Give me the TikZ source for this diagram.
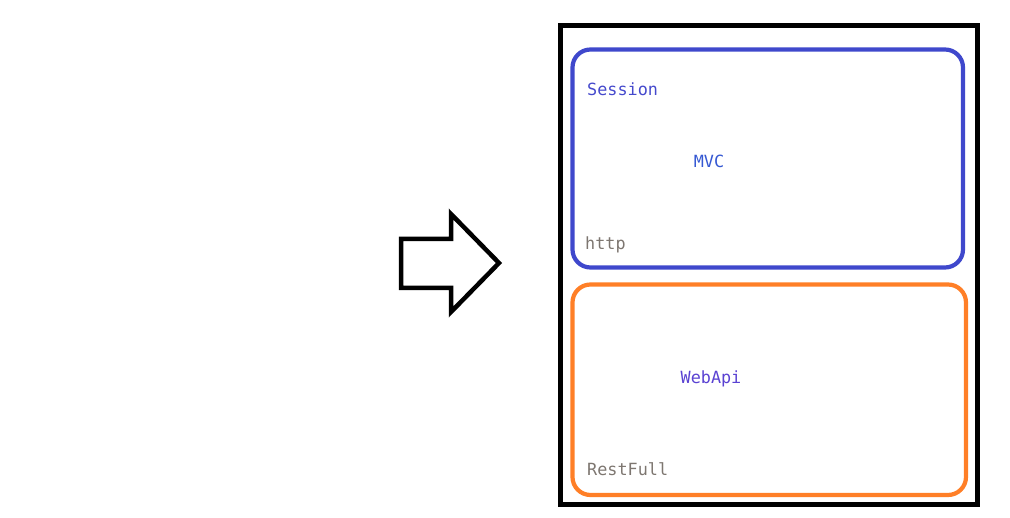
\documentclass[tikz,border=0pt]{standalone}
\usepackage{fontspec}
\setmonofont{DejaVu Sans Mono}
\definecolor{boxblue}{HTML}{3F48CC}
\definecolor{boxorange}{HTML}{FF7F27}
\definecolor{txtblue}{HTML}{4549CC}
\definecolor{mvcblue}{HTML}{3558D2}
\definecolor{apipurple}{HTML}{5A42D2}
\definecolor{txtgray}{HTML}{7D7670}
\begin{document}
\begin{tikzpicture}[x=1pt,y=-1pt,
  lbl/.style={inner sep=0pt,font=\fontsize{16.8}{18}\selectfont\ttfamily},
  frame/.style={draw=black,line width=5pt},
  panel/.style={line width=4.2pt,rounded corners=18pt}]
\useasboundingbox (0,0) rectangle (1010,518);
% outer frame
\draw[frame] (560,25.5) rectangle (977,505);
% panels
\draw[panel,draw=boxblue] (572.5,49.5) rectangle (963,267.5);
\draw[panel,draw=boxorange] (572.5,284.5) rectangle (966,495);
% arrow
\draw[line width=4.5pt,line join=miter] (401,239) -- (451,239) -- (451,214) -- (499,263)
  -- (451,312) -- (451,288) -- (401,288) -- cycle;
% texts
\node[lbl,text=txtblue,anchor=west] (session) at (587,89) {Session};
\node[lbl,text=mvcblue] (mvc) at (709,161) {MVC};
\node[lbl,text=txtgray,anchor=west] (http) at (585,245) {http};
\node[lbl,text=apipurple] (webapi) at (711,379) {WebApi};
\node[lbl,text=txtgray,anchor=west] (restfull) at (587,469) {RestFull};
\end{tikzpicture}
\end{document}
